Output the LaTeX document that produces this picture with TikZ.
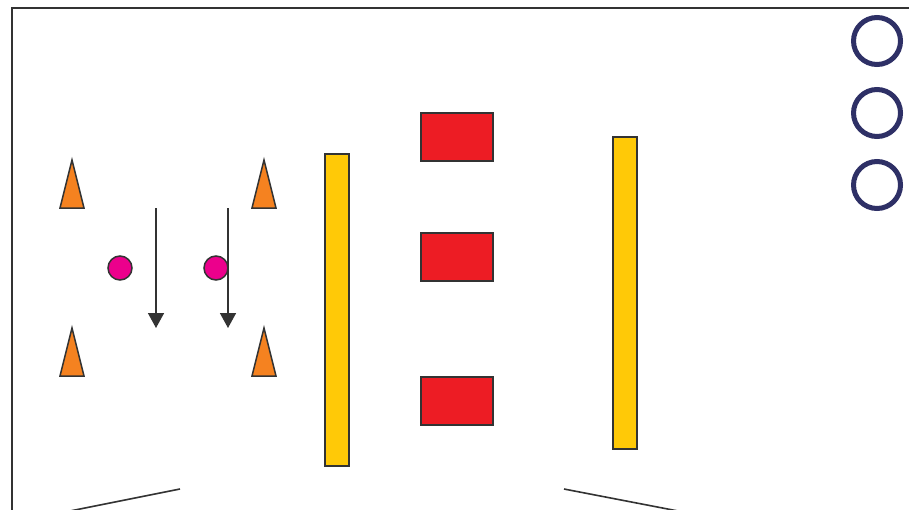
\documentclass[tikz,border=0pt]{standalone}
\usepackage{tikz}
\usetikzlibrary{arrows.meta,calc,positioning}
\definecolor{Ink}{HTML}{333333}
\definecolor{Cone}{HTML}{F58220}
\definecolor{Ball}{HTML}{EC008C}
\definecolor{Pole}{HTML}{FFC907}
\definecolor{Block}{HTML}{ED1C24}
\definecolor{Ring}{HTML}{2E3066}

\begin{document}
\begin{tikzpicture}[x=1pt, y=-1pt, >=Triangle]
    \useasboundingbox (0,0) rectangle (909,509);
    \clip (0,0) rectangle (909,509);
    % field edge
    \draw[Ink, line width=2pt] (12,520) -- (12,8) -- (920,8);
    \draw[Ink, line width=1.6pt] (180,489) -- (40,517);
    \draw[Ink, line width=1.6pt] (564,489) -- (704,516);
    % cones
    \foreach \cx/\cy in {72/160, 72/328, 264/160, 264/328}
      \draw[Ink, fill=Cone, line width=1.5pt, line join=miter] (\cx,\cy) -- (\cx+12,\cy+48) -- (\cx-12,\cy+48) -- cycle;
    % balls
    \node[circle, draw=Ink, fill=Ball, line width=1.5pt, minimum size=24pt, inner sep=0pt] (ballA) at (120,268) {};
    \node[circle, draw=Ink, fill=Ball, line width=1.5pt, minimum size=24pt, inner sep=0pt] (ballB) at (216,268) {};
    % runs
    \coordinate (runAstart) at (156,208);
    \coordinate (runAend) at (156,328);
    \coordinate (runBstart) at (228,208);
    \coordinate (runBend) at (228,328);
    \draw[-{Triangle[width=16pt, length=15pt]}, Ink, line width=1.6pt] (runAstart) -- (runAend);
    \draw[-{Triangle[width=16pt, length=15pt]}, Ink, line width=1.6pt] (runBstart) -- (runBend);
    % poles
    \node[draw=Ink, fill=Pole, line width=1.5pt, minimum width=24pt, minimum height=312pt, inner sep=0pt, anchor=north west] (poleL) at (324,153) {};
    \node[draw=Ink, fill=Pole, line width=1.5pt, minimum width=24pt, minimum height=312pt, inner sep=0pt, anchor=north west] (poleR) at (612,136) {};
    % blocks
    \node[draw=Ink, fill=Block, line width=1.5pt, minimum width=72pt, minimum height=48pt, inner sep=0pt, anchor=north west] (blockA) at (420,112) {};
    \node[draw=Ink, fill=Block, line width=1.5pt, minimum width=72pt, minimum height=48pt, inner sep=0pt, anchor=north west] (blockB) at (420,232) {};
    \node[draw=Ink, fill=Block, line width=1.5pt, minimum width=72pt, minimum height=48pt, inner sep=0pt, anchor=north west] (blockC) at (420,376) {};
    % rings
    \foreach \ry [count=\i] in {41,113,185}
      \node[circle, draw=Ring, line width=5pt, minimum size=47pt, inner sep=0pt] (ring\i) at (877,\ry) {};
  \end{tikzpicture}
\end{document}
